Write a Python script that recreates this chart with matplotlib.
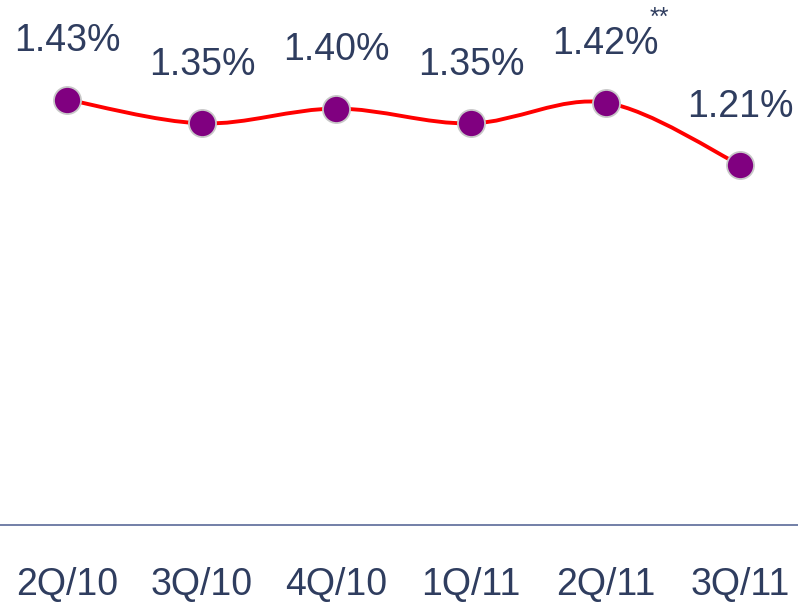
import numpy as np
import matplotlib.pyplot as plt
from matplotlib.path import Path
from matplotlib.patches import PathPatch

quarters = ["2Q/10", "3Q/10", "4Q/10", "1Q/11", "2Q/11", "3Q/11"]
rates = [1.43, 1.35, 1.40, 1.35, 1.42, 1.21]
labels = ["1.43%", "1.35%", "1.40%", "1.35%", "1.42%", "1.21%"]

plt.rcParams["font.family"] = ["Liberation Sans", "DejaVu Sans"]
txt = "#2f3d5f"

fig = plt.figure(figsize=(7.98, 6.02), dpi=100)
ax = fig.add_axes([0, 0.128, 1.012, 0.872])

x = np.arange(len(rates))
y = np.array(rates)

# smoothed line (bezier through the points, like the office "smooth line")
verts = [(x[0], y[0])]
codes = [Path.MOVETO]
t = 1 / 6
for i in range(len(x) - 1):
    p0 = np.array([x[max(i - 1, 0)], y[max(i - 1, 0)]])
    p1 = np.array([x[i], y[i]])
    p2 = np.array([x[i + 1], y[i + 1]])
    p3 = np.array([x[min(i + 2, len(x) - 1)], y[min(i + 2, len(x) - 1)]])
    c1 = p1 + (p2 - p0) * t
    c2 = p2 - (p3 - p1) * t
    verts += [tuple(c1), tuple(c2), tuple(p2)]
    codes += [Path.CURVE4] * 3
ax.add_patch(PathPatch(Path(verts, codes), fill=False, edgecolor="#ff0000", lw=2.8, zorder=2))

ax.plot(x, y, ls="none", marker="o", ms=19.5, mfc="#800080", mec="#c8c8c8", mew=1.3, zorder=3)

for xi, yi, lab in zip(x, y, labels):
    ax.annotate(lab, (xi, yi), xytext=(0, 42), textcoords="offset points",
                ha="center", va="center", fontsize=27, color=txt)
ax.annotate("**", (x[4], y[4]), xytext=(39, 61), textcoords="offset points",
            ha="center", va="center", fontsize=18, color=txt)

ax.set_xlim(-0.5, len(x) - 0.5)
ax.set_ylim(0, 1.765)
ax.set_xticks(x)
ax.set_xticklabels(quarters, fontsize=27, color=txt)
ax.tick_params(axis="x", length=0, pad=30)
ax.set_yticks([])
for s in ["top", "left", "right"]:
    ax.spines[s].set_visible(False)
ax.spines["bottom"].set_color("#5a6a98")
ax.spines["bottom"].set_linewidth(1.2)

fig.savefig("out.png", dpi=100)
